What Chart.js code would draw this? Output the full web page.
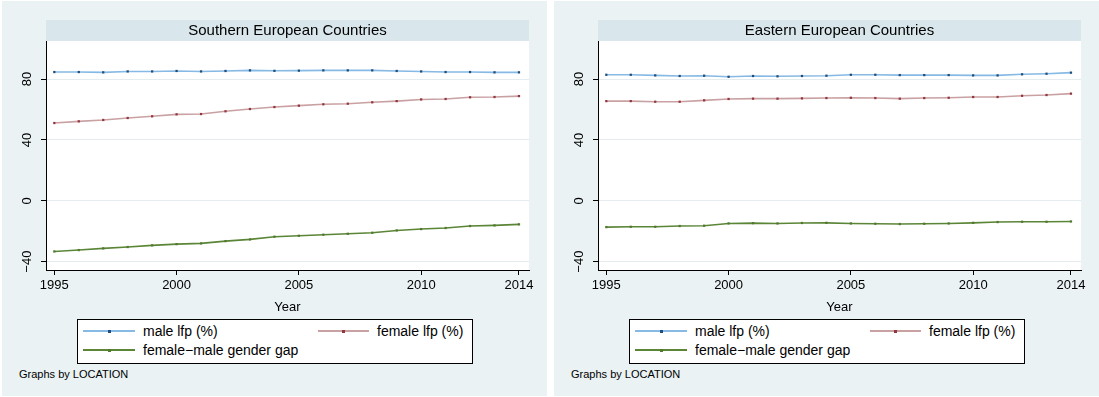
<!DOCTYPE html>
<html>
<head>
<meta charset="utf-8">
<script src="https://cdn.jsdelivr.net/npm/chart.js@4.4.1/dist/chart.umd.min.js"></script>
<style>
  body { margin: 0; background: #fff; width: 1099px; height: 397px; position: relative; overflow: hidden;
         font-family: "Liberation Sans", Arial, sans-serif; }
  .panel { position: absolute; top: 1px; width: 545px; height: 395px; background: #EAF2F3; }
  .panel canvas { position: absolute; left: 0; top: 0; }
  .legend { position: absolute; left: 75px; top: 318px; width: 396px; height: 45px; box-sizing: border-box;
            border: 1px solid #000; background: #fff; }
  .swatch { position: absolute; height: 2px; }
  .swatch i { position: absolute; left: 50%; top: 50%; width: 3px; height: 3px; margin: -1.5px 0 0 -1.5px; }
  .key { position: absolute; font-size: 14px; line-height: 16px; color: #000; white-space: nowrap; }
  .note { position: absolute; left: 17px; top: 366px; font-size: 11px; line-height: 14px; color: #000; }
</style>
</head>
<body>
<div class="panel" id="south" style="left:2px"><canvas width="545" height="318"></canvas></div>
<div class="panel" id="east" style="left:554px"><canvas width="545" height="318"></canvas></div>
<script>
const years = [1995, 1996, 1997, 1998, 1999, 2000, 2001, 2002, 2003, 2004,
               2005, 2006, 2007, 2008, 2009, 2010, 2011, 2012, 2013, 2014];

// Southern European Countries
const maleSouth = [84.6, 84.6, 84.4, 85.0, 85.0, 85.3, 85.0, 85.3, 85.7, 85.4,
                   85.5, 85.7, 85.7, 85.7, 85.3, 85.0, 84.6, 84.6, 84.4, 84.4];
const femaleSouth = [51.1, 52.2, 53.1, 54.4, 55.5, 56.8, 57.0, 58.8, 60.3, 61.6,
                     62.5, 63.4, 63.8, 64.7, 65.5, 66.6, 66.9, 68.0, 68.2, 68.8];
const gapSouth = [-33.3, -32.4, -31.3, -30.4, -29.3, -28.5, -28.0, -26.5, -25.4, -23.6,
                  -23.0, -22.3, -21.7, -21.0, -19.5, -18.6, -17.9, -16.6, -16.2, -15.5];

// Eastern European Countries
const maleEast = [82.8, 82.8, 82.4, 82.0, 82.2, 81.5, 82.0, 81.8, 82.0, 82.2,
                  82.8, 82.8, 82.6, 82.6, 82.6, 82.4, 82.4, 83.1, 83.5, 84.2];
const femaleEast = [65.5, 65.5, 65.1, 65.1, 66.0, 66.9, 67.1, 67.1, 67.3, 67.5,
                    67.7, 67.5, 67.1, 67.5, 67.7, 68.2, 68.2, 69.0, 69.5, 70.4];
const gapEast = [-17.3, -17.1, -17.1, -16.6, -16.4, -14.9, -14.7, -14.9, -14.6, -14.5,
                 -14.9, -15.1, -15.3, -15.1, -14.9, -14.5, -14.0, -13.8, -13.8, -13.6];

const xTicks = [1995, 2000, 2005, 2010, 2014];
const yTicks = [-40, 0, 40, 80];
const seriesNames = ['male lfp (%)', 'female lfp (%)', 'female\u2212male gender gap'];

const lineColors = ['#86B9E4', '#C9A1A3', '#5B8537'];
const markerColors = ['#1F4E7A', '#94363F', '#527A2E'];
const FONT = '"Liberation Sans", Arial, sans-serif';

const yLabel = v => (v < 0 ? '\u2212' + Math.abs(v) : String(v));

// white plot region plus the shaded strip behind the panel title
const backdrop = {
  id: 'backdrop',
  beforeDraw(chart) {
    const { ctx, chartArea: a } = chart;
    ctx.save();
    ctx.fillStyle = '#fff';
    ctx.fillRect(a.left, a.top, a.right - a.left, a.bottom - a.top);
    ctx.fillStyle = '#D9E6EB';
    ctx.fillRect(a.left, 19, a.right - a.left, a.top - 19);
    ctx.restore();
  }
};

// y tick labels turned on their side, centred on each tick
const sideLabels = {
  id: 'sideLabels',
  afterDraw(chart) {
    const { ctx } = chart;
    const scale = chart.scales.y;
    ctx.save();
    ctx.font = '13px ' + FONT;
    ctx.fillStyle = '#000';
    ctx.textAlign = 'center';
    ctx.textBaseline = 'middle';
    yTicks.forEach(v => {
      ctx.save();
      ctx.translate(scale.right - 18.5, scale.getPixelForValue(v));
      ctx.rotate(-Math.PI / 2);
      ctx.fillText(yLabel(v), 0, 0);
      ctx.restore();
    });
    ctx.restore();
  }
};

function makePanel(id, title, series) {
  const panel = document.getElementById(id);
  const canvas = panel.querySelector('canvas');

  new Chart(canvas, {
    type: 'line',
    data: {
      labels: years,
      datasets: series.map((d, i) => ({
        label: seriesNames[i],
        data: d,
        borderColor: lineColors[i],
        borderWidth: 1.6,
        pointStyle: 'rect',
        pointRadius: 1.6,
        pointBorderWidth: 0,
        pointBackgroundColor: markerColors[i],
        tension: 0,
        fill: false
      }))
    },
    options: {
      responsive: false,
      animation: false,
      devicePixelRatio: 1,
      layout: { padding: { left: 0, right: 18, top: 0, bottom: 0 } },
      plugins: {
        legend: { display: false },
        tooltip: { enabled: false },
        title: {
          display: true,
          text: title,
          fullSize: false,
          color: '#000',
          font: { family: FONT, size: 15, weight: 'normal' },
          padding: { top: 21, bottom: 1 }
        }
      },
      scales: {
        x: {
          type: 'linear',
          min: 1994.66,
          max: 2014.41,
          afterBuildTicks: s => { s.ticks = xTicks.map(v => ({ value: v })); },
          afterFit: s => { s.height = 49; },
          grid: { drawOnChartArea: false, tickLength: 5, tickColor: '#000' },
          border: { color: '#000', width: 1 },
          ticks: {
            color: '#000', font: { family: FONT, size: 13 }, padding: 3,
            maxRotation: 0, autoSkip: false, callback: v => String(v)
          },
          title: {
            display: true, text: 'Year', color: '#000',
            font: { family: FONT, size: 13 }, padding: { top: 0, bottom: 4 }
          }
        },
        y: {
          min: -45.5,
          max: 105,
          afterBuildTicks: s => { s.ticks = yTicks.map(v => ({ value: v })); },
          afterFit: s => { s.width = 44; },
          grid: { color: '#E4ECEF', lineWidth: 1, tickLength: 5, tickColor: '#000' },
          border: { color: '#000', width: 1 },
          ticks: { display: false }
        }
      }
    },
    plugins: [backdrop, sideLabels]
  });

  // legend box under the plot
  const legend = document.createElement('div');
  legend.className = 'legend';
  const slots = [{ sx: 5, sw: 52, tx: 65, cy: 11 }, { sx: 240, sw: 51, tx: 299, cy: 11 }, { sx: 5, sw: 52, tx: 65, cy: 30 }];
  seriesNames.forEach((name, i) => {
    const s = slots[i];
    const sw = document.createElement('div');
    sw.className = 'swatch';
    sw.style.cssText = `left:${s.sx}px;width:${s.sw}px;top:${s.cy - 1}px;background:${lineColors[i]}`;
    const mk = document.createElement('i');
    mk.style.background = markerColors[i];
    sw.appendChild(mk);
    const txt = document.createElement('div');
    txt.className = 'key';
    txt.style.cssText = `left:${s.tx}px;top:${s.cy - 8}px`;
    txt.textContent = name;
    legend.appendChild(sw);
    legend.appendChild(txt);
  });
  panel.appendChild(legend);

  const note = document.createElement('div');
  note.className = 'note';
  note.textContent = 'Graphs by LOCATION';
  panel.appendChild(note);
}

makePanel('south', 'Southern European Countries', [maleSouth, femaleSouth, gapSouth]);
makePanel('east', 'Eastern European Countries', [maleEast, femaleEast, gapEast]);
</script>
</body>
</html>
